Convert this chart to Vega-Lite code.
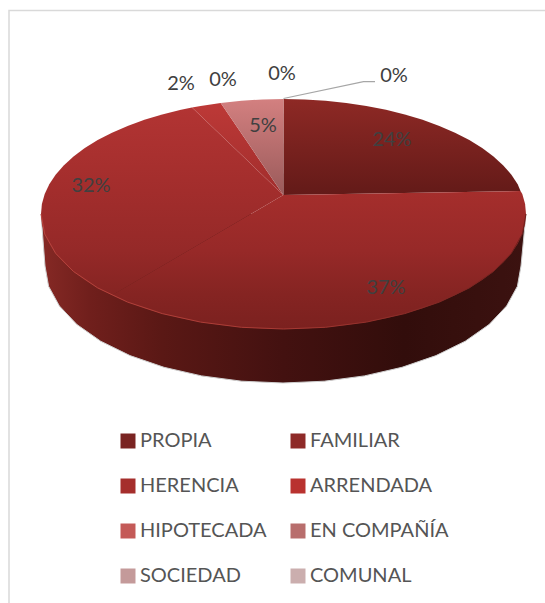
{"$schema":"https://vega.github.io/schema/vega-lite/v6.json","width":545,"height":603,"padding":0,"autosize":"none","background":"white","config":{"view":{"stroke":null}},
"datasets":{
"slices":[
{"cat":"PROPIA","pct":0.24,"lx":392,"ly":140},
{"cat":"FAMILIAR","pct":0.37,"lx":386,"ly":288},
{"cat":"HERENCIA","pct":0.32,"lx":91,"ly":186},
{"cat":"ARRENDADA","pct":0.02,"lx":181,"ly":84},
{"cat":"HIPOTECADA","pct":0,"lx":223,"ly":80},
{"cat":"EN COMPAÑÍA","pct":0.05,"lx":263,"ly":126},
{"cat":"SOCIEDAD","pct":0,"lx":282,"ly":74},
{"cat":"COMUNAL","pct":0,"lx":394,"ly":76}],
"outline":[
{"p":"frame","i":0,"x":9,"y":603},{"p":"frame","i":1,"x":9,"y":10.5},{"p":"frame","i":2,"x":545,"y":10.5},
{"p":"leader","i":0,"x":283.5,"y":98.5},{"p":"leader","i":1,"x":363.5,"y":81.7},{"p":"leader","i":2,"x":375,"y":81.7},
{"p":"side","i":0,"x":526,"y":214},{"p":"side","i":1,"x":521,"y":266},{"p":"side","i":2,"x":517.4,"y":286.3},{"p":"side","i":3,"x":506.6,"y":306},{"p":"side","i":4,"x":489.1,"y":324.5},{"p":"side","i":5,"x":465.3,"y":341.2},{"p":"side","i":6,"x":436,"y":355.6},{"p":"side","i":7,"x":402,"y":367.3},{"p":"side","i":8,"x":364.4,"y":375.9},{"p":"side","i":9,"x":324.3,"y":381.2},{"p":"side","i":10,"x":283,"y":383},{"p":"side","i":11,"x":241.7,"y":381.2},{"p":"side","i":12,"x":201.6,"y":375.9},{"p":"side","i":13,"x":164,"y":367.3},{"p":"side","i":14,"x":130,"y":355.6},{"p":"side","i":15,"x":100.7,"y":341.2},{"p":"side","i":16,"x":76.9,"y":324.5},{"p":"side","i":17,"x":59.4,"y":306},{"p":"side","i":18,"x":48.6,"y":286.3},{"p":"side","i":19,"x":45,"y":266},{"p":"side","i":20,"x":41,"y":214},
{"p":"s1","i":0,"x":283.3,"y":195},{"p":"s1","i":1,"x":283.5,"y":99},{"p":"s1","i":2,"x":304.6,"y":99.4},{"p":"s1","i":3,"x":325.6,"y":100.7},{"p":"s1","i":4,"x":346.3,"y":102.9},{"p":"s1","i":5,"x":366.4,"y":105.9},{"p":"s1","i":6,"x":386,"y":109.8},{"p":"s1","i":7,"x":404.8,"y":114.4},{"p":"s1","i":8,"x":422.6,"y":119.8},{"p":"s1","i":9,"x":439.4,"y":125.9},{"p":"s1","i":10,"x":455,"y":132.7},{"p":"s1","i":11,"x":469.3,"y":140.1},{"p":"s1","i":12,"x":482.2,"y":148},{"p":"s1","i":13,"x":493.5,"y":156.5},{"p":"s1","i":14,"x":503.3,"y":165.4},{"p":"s1","i":15,"x":511.4,"y":174.7},{"p":"s1","i":16,"x":517.7,"y":184.2},{"p":"s1","i":17,"x":520.5,"y":191},
{"p":"s2","i":0,"x":283.3,"y":195},{"p":"s2","i":1,"x":520.5,"y":191},{"p":"s2","i":2,"x":522.3,"y":194},{"p":"s2","i":3,"x":525.1,"y":204},{"p":"s2","i":4,"x":526,"y":214},{"p":"s2","i":5,"x":525.1,"y":224},{"p":"s2","i":6,"x":522.3,"y":234},{"p":"s2","i":7,"x":517.7,"y":243.8},{"p":"s2","i":8,"x":511.4,"y":253.3},{"p":"s2","i":9,"x":503.3,"y":262.6},{"p":"s2","i":10,"x":493.5,"y":271.5},{"p":"s2","i":11,"x":482.2,"y":280},{"p":"s2","i":12,"x":469.3,"y":287.9},{"p":"s2","i":13,"x":455,"y":295.3},{"p":"s2","i":14,"x":439.4,"y":302.1},{"p":"s2","i":15,"x":422.6,"y":308.2},{"p":"s2","i":16,"x":404.8,"y":313.6},{"p":"s2","i":17,"x":386,"y":318.2},{"p":"s2","i":18,"x":366.4,"y":322.1},{"p":"s2","i":19,"x":346.3,"y":325.1},{"p":"s2","i":20,"x":325.6,"y":327.3},{"p":"s2","i":21,"x":304.6,"y":328.6},{"p":"s2","i":22,"x":283.5,"y":329},{"p":"s2","i":23,"x":262.4,"y":328.6},{"p":"s2","i":24,"x":241.4,"y":327.3},{"p":"s2","i":25,"x":220.7,"y":325.1},{"p":"s2","i":26,"x":200.6,"y":322.1},{"p":"s2","i":27,"x":181,"y":318.2},{"p":"s2","i":28,"x":162.2,"y":313.6},{"p":"s2","i":29,"x":144.4,"y":308.2},{"p":"s2","i":30,"x":127.6,"y":302.1},{"p":"s2","i":31,"x":112,"y":295.3},
{"p":"s3","i":0,"x":283.3,"y":195},{"p":"s3","i":1,"x":112,"y":295.3},{"p":"s3","i":2,"x":97.7,"y":287.9},{"p":"s3","i":3,"x":84.8,"y":280},{"p":"s3","i":4,"x":73.5,"y":271.5},{"p":"s3","i":5,"x":63.7,"y":262.6},{"p":"s3","i":6,"x":55.6,"y":253.3},{"p":"s3","i":7,"x":49.3,"y":243.8},{"p":"s3","i":8,"x":44.7,"y":234},{"p":"s3","i":9,"x":41.9,"y":224},{"p":"s3","i":10,"x":41,"y":214},{"p":"s3","i":11,"x":41.9,"y":204},{"p":"s3","i":12,"x":44.7,"y":194},{"p":"s3","i":13,"x":49.3,"y":184.2},{"p":"s3","i":14,"x":55.6,"y":174.7},{"p":"s3","i":15,"x":63.7,"y":165.4},{"p":"s3","i":16,"x":73.5,"y":156.5},{"p":"s3","i":17,"x":84.8,"y":148},{"p":"s3","i":18,"x":97.7,"y":140.1},{"p":"s3","i":19,"x":112,"y":132.7},{"p":"s3","i":20,"x":127.6,"y":125.9},{"p":"s3","i":21,"x":144.4,"y":119.8},{"p":"s3","i":22,"x":162.2,"y":114.4},{"p":"s3","i":23,"x":181,"y":109.8},{"p":"s3","i":24,"x":192,"y":107.5},
{"p":"s4","i":0,"x":283.3,"y":195},{"p":"s4","i":1,"x":192,"y":107.5},{"p":"s4","i":2,"x":200.6,"y":105.9},{"p":"s4","i":3,"x":220.7,"y":102.9},
{"p":"s5","i":0,"x":283.3,"y":195},{"p":"s5","i":1,"x":220.7,"y":102.9},{"p":"s5","i":2,"x":241.4,"y":100.7},{"p":"s5","i":3,"x":262.4,"y":99.4},{"p":"s5","i":4,"x":283.5,"y":99},
{"p":"rim","i":0,"x":526,"y":214},{"p":"rim","i":1,"x":522.3,"y":234},{"p":"rim","i":2,"x":511.4,"y":253.3},{"p":"rim","i":3,"x":493.5,"y":271.5},{"p":"rim","i":4,"x":469.3,"y":287.9},{"p":"rim","i":5,"x":439.4,"y":302.1},{"p":"rim","i":6,"x":404.8,"y":313.6},{"p":"rim","i":7,"x":366.4,"y":322.1},{"p":"rim","i":8,"x":325.6,"y":327.3},{"p":"rim","i":9,"x":283.5,"y":329},{"p":"rim","i":10,"x":241.4,"y":327.3},{"p":"rim","i":11,"x":200.6,"y":322.1},{"p":"rim","i":12,"x":162.2,"y":313.6},{"p":"rim","i":13,"x":127.6,"y":302.1},{"p":"rim","i":14,"x":97.7,"y":287.9},{"p":"rim","i":15,"x":73.5,"y":271.5},{"p":"rim","i":16,"x":55.6,"y":253.3},{"p":"rim","i":17,"x":44.7,"y":234},{"p":"rim","i":18,"x":41,"y":214}
]},
"encoding":{
"x":{"field":"x","type":"quantitative","scale":{"domain":[0,545]},"axis":null},
"y":{"field":"y","type":"quantitative","scale":{"domain":[603,0]},"axis":null},
"order":{"field":"i","type":"quantitative"}},
"layer":[
{"data":{"name":"outline"},"transform":[{"filter":"datum.p==='frame'"}],"mark":{"type":"line","stroke":"#d9d9d9","strokeWidth":1.5}},
{"data":{"name":"outline"},"transform":[{"filter":"datum.p==='side'"}],"mark":{"type":"line","stroke":"#cfcfcf","strokeWidth":1,"fill":{"gradient":"linear","x1":0,"y1":0,"x2":1,"y2":0,"stops":[{"offset":0,"color":"#862925"},{"offset":0.1,"color":"#701f1c"},{"offset":0.25,"color":"#5a1815"},{"offset":0.5,"color":"#431110"},{"offset":0.75,"color":"#320d0b"},{"offset":1,"color":"#3c1210"}]}}},
{"data":{"name":"outline"},"transform":[{"filter":"datum.p==='s1'"}],"mark":{"type":"line","stroke":null,"fill":{"gradient":"linear","x1":0,"y1":0,"x2":0,"y2":1,"stops":[{"offset":0,"color":"#8e2925"},{"offset":1,"color":"#631a18"}]}}},
{"data":{"name":"outline"},"transform":[{"filter":"datum.p==='s3'"}],"mark":{"type":"line","stroke":null,"fill":{"gradient":"linear","x1":0,"y1":0,"x2":0,"y2":1,"stops":[{"offset":0,"color":"#b23433"},{"offset":0.447,"color":"#a22d2c"},{"offset":0.76,"color":"#952928"},{"offset":1,"color":"#852422"}]}}},
{"data":{"name":"outline"},"transform":[{"filter":"datum.p==='s2'"}],"mark":{"type":"line","stroke":null,"fill":{"gradient":"linear","x1":0,"y1":0,"x2":0,"y2":1,"stops":[{"offset":0,"color":"#a52e2c"},{"offset":0.43,"color":"#972928"},{"offset":0.75,"color":"#852422"},{"offset":1,"color":"#7b211f"}]}}},
{"data":{"name":"outline"},"transform":[{"filter":"datum.p==='s4'"}],"mark":{"type":"line","stroke":null,"fill":{"gradient":"linear","x1":0,"y1":0,"x2":0,"y2":1,"stops":[{"offset":0,"color":"#bd3937"},{"offset":1,"color":"#a12d2c"}]}}},
{"data":{"name":"outline"},"transform":[{"filter":"datum.p==='s5'"}],"mark":{"type":"line","stroke":null,"fill":{"gradient":"linear","x1":0,"y1":0,"x2":0,"y2":1,"stops":[{"offset":0,"color":"#d38080"},{"offset":1,"color":"#9a5a5a"}]}}},
{"data":{"name":"outline"},"transform":[{"filter":"datum.p==='rim'"}],"mark":{"type":"line","strokeWidth":1,"stroke":{"gradient":"linear","x1":0,"y1":0,"x2":1,"y2":0,"stops":[{"offset":0,"color":"#b8443e"},{"offset":0.5,"color":"#a83a34"},{"offset":1,"color":"#6e1f1c"}]}}},
{"data":{"name":"outline"},"transform":[{"filter":"datum.p==='leader'"}],"mark":{"type":"line","stroke":"#a6a6a6","strokeWidth":1.2}},
{"data":{"name":"slices"},"mark":{"type":"text","font":"Lato","fontSize":20,"color":"#404040","align":"center","baseline":"middle"},"encoding":{"x":{"field":"lx","type":"quantitative"},"y":{"field":"ly","type":"quantitative"},"order":null,"text":{"field":"pct","type":"quantitative","format":".0%"}}},
{"data":{"name":"slices"},"mark":{"type":"point","filled":true,"size":0,"opacity":1},"encoding":{"x":{"field":"lx","type":"quantitative"},"y":{"field":"ly","type":"quantitative"},"order":null,
"color":{"field":"cat","type":"nominal","sort":null,"scale":{"domain":["PROPIA","HERENCIA","HIPOTECADA","SOCIEDAD","FAMILIAR","ARRENDADA","EN COMPAÑÍA","COMUNAL"],"range":["#7a2422","#a52e2c","#c45a58","#c49a9a","#8e2a28","#b9322f","#b86e6d","#cbaeae"]},
"legend":{"title":null,"orient":"none","legendX":118,"legendY":431,"columns":2,"symbolType":"square","symbolSize":225,"symbolStrokeWidth":0,"symbolOpacity":1,"labelFont":"Lato","labelFontSize":20,"labelColor":"#555555","labelOffset":2,"rowPadding":25,"columnPadding":21,"labelLimit":200,"gridAlign":"each"}}}}
]}
